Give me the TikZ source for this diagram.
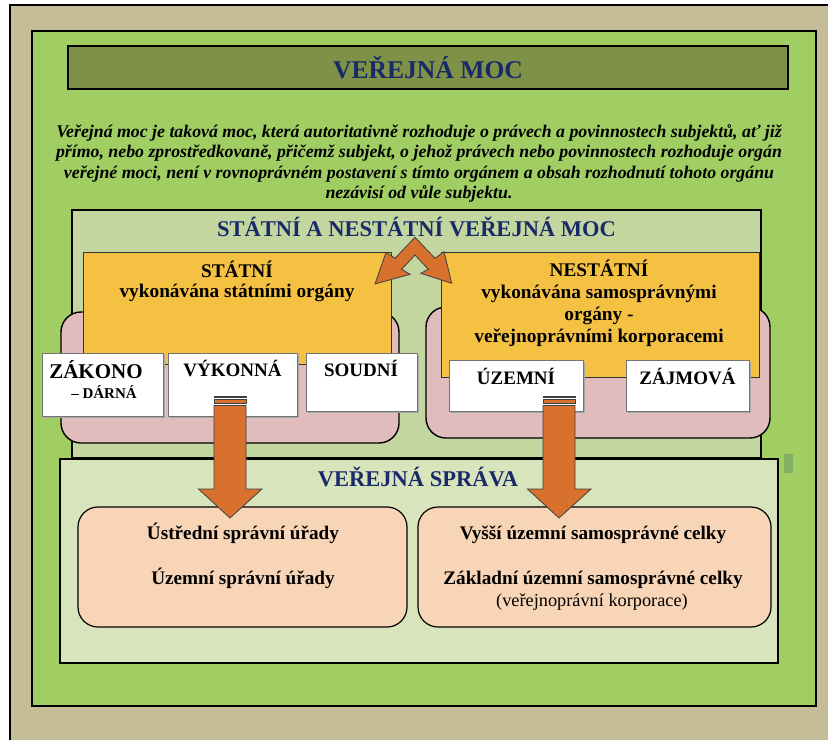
\documentclass[tikz,border=0pt]{standalone}
\usepackage{fontspec}
\setmainfont{Liberation Serif}
\usetikzlibrary{calc}
\definecolor{tanbg}{RGB}{196,189,151}
\definecolor{frgreen}{RGB}{160,206,98}
\definecolor{olive}{RGB}{127,145,71}
\definecolor{midgreen}{RGB}{196,214,160}
\definecolor{lightgreen}{RGB}{216,228,188}
\definecolor{pinkbox}{RGB}{224,188,188}
\definecolor{yellowbox}{RGB}{244,193,66}
\definecolor{orangearr}{RGB}{216,113,46}
\definecolor{beige}{RGB}{248,213,182}
\definecolor{navy}{RGB}{25,42,105}
\definecolor{specgreen}{RGB}{132,174,96}
\newcommand\fsz[1]{\fontsize{#1}{#1}\selectfont}
\begin{document}
\begin{tikzpicture}[x=1pt,y=-1pt,
  shape box/.style={rectangle, inner sep=0pt, outer sep=0pt},
  greenframe/.style={shape box, draw=black, line width=2.5pt, fill=frgreen},
  titlebox/.style={shape box, draw=black, line width=2pt, fill=olive},
  statebox/.style={shape box, draw=black, line width=2pt, fill=midgreen},
  spravabox/.style={shape box, draw=black, line width=2.5pt, fill=lightgreen},
  pinkround/.style={shape box, draw=black, line width=1.4pt, fill=pinkbox, rounded corners=20pt},
  yellowrect/.style={shape box, draw=black!80, line width=0.8pt, fill=yellowbox},
  whitebox/.style={shape box, draw=black!55, line width=1pt, fill=white},
  beigeround/.style={shape box, draw=black, line width=1.2pt, fill=beige, rounded corners=20pt},
  orangeshape/.style={fill=orangearr, draw=black!75, line width=0.8pt, line join=miter},
  txt/.style={inner sep=0pt, anchor=base},
  headtxt/.style={txt, text=navy, font=\bfseries},
  bodytxt/.style={txt, font=\bfseries},
]
\useasboundingbox (0,0) rectangle (828,740);
% outer frame
\fill[tanbg] (10,5) rectangle (828,740);
\draw[line width=2.8pt] (10,740) -- (10,5) -- (828,5);
% green frame
\node[greenframe, minimum width=784, minimum height=675] (green) at (424,368.5) {};
% title
\node[titlebox, minimum width=720, minimum height=43] (title) at (428,67.5) {};
\node[headtxt, font=\bfseries\fsz{25.6}] (titletxt) at (428,78) {VEŘEJNÁ MOC};
% definition
\node[bodytxt, font=\bfseries\itshape\fsz{17.8}] (def1) at (419,137) {Veřejná moc je taková moc, která autoritativně rozhoduje o právech a povinnostech subjektů, ať již};
\node[bodytxt, font=\bfseries\itshape\fsz{17.8}] (def2) at (419,157.5) {přímo, nebo zprostředkovaně, přičemž subjekt, o jehož právech nebo povinnostech rozhoduje orgán};
\node[bodytxt, font=\bfseries\itshape\fsz{17.8}] (def3) at (419,178) {veřejné moci, není v rovnoprávném postavení s tímto orgánem a obsah rozhodnutí tohoto orgánu};
\node[bodytxt, font=\bfseries\itshape\fsz{17.8}] (def4) at (419,198) {nezávisí od vůle subjektu.};
% state / non-state
\node[statebox, minimum width=689, minimum height=248] (state) at (416.5,334) {};
\node[headtxt, font=\bfseries\fsz{22.5}] (statetitle) at (416.5,236.7) {STÁTNÍ A NESTÁTNÍ VEŘEJNÁ MOC};
% public administration
\node[spravabox, minimum width=718, minimum height=204] (sprava) at (419,561) {};
\node[headtxt, font=\bfseries\fsz{22.5}] (spravatitle) at (418,486) {VEŘEJNÁ SPRÁVA};
% pink groups
\node[pinkround, minimum width=338, minimum height=131] (pinkL) at (230,377.5) {};
\node[pinkround, minimum width=344, minimum height=131] (pinkR) at (598,372.5) {};
% yellow boxes
\node[yellowrect, minimum width=308, minimum height=112] (statni) at (237,308) {};
\node[yellowrect, minimum width=318, minimum height=125] (nestatni) at (600,314.5) {};
\node[bodytxt, font=\bfseries\fsz{19.3}] (statni1) at (237,277.3) {STÁTNÍ};
\node[bodytxt, font=\bfseries\fsz{19.3}] (statni2) at (237,297.5) {vykonávána státními orgány};
\node[bodytxt, font=\bfseries\fsz{19.3}] (nestatni1) at (599,276.7) {NESTÁTNÍ};
\node[bodytxt, font=\bfseries\fsz{19.3}] (nestatni2) at (599,298) {vykonávána samosprávnými};
\node[bodytxt, font=\bfseries\fsz{19.3}] (nestatni3) at (599,320) {orgány -};
\node[bodytxt, font=\bfseries\fsz{19.3}] (nestatni4) at (599,342.5) {veřejnoprávními korporacemi};
% white boxes
\foreach \nm/\cx/\cy/\w/\h in {zak/102.5/384.5/121/63, vyk/232.5/384.5/129/63, sou/361.5/382/111/58, uze/516/385.5/134/51, zaj/687.5/385.5/123/51}{
  \fill[black!35] (\cx-\w/2+1.5,\cy-\h/2+1.5) rectangle (\cx+\w/2+1.5,\cy+\h/2+1.5);
  \node[whitebox, minimum width=\w, minimum height=\h] (\nm) at (\cx,\cy) {};
}
\node[bodytxt, font=\bfseries\fsz{21}] (zaktxt) at (96,378.3) {ZÁKONO};
\node[bodytxt, font=\bfseries\fsz{15}] (zaktxt2) at (104,398.3) {– DÁRNÁ};
\node[bodytxt, font=\bfseries\fsz{19}] (vyktxt) at (232.5,376.7) {VÝKONNÁ};
\node[bodytxt, font=\bfseries\fsz{19}] (soutxt) at (361,376.7) {SOUDNÍ};
\node[bodytxt, font=\bfseries\fsz{19}] (uzetxt) at (516,384.3) {ÚZEMNÍ};
\node[bodytxt, font=\bfseries\fsz{19}] (zajtxt) at (687.5,384.3) {ZÁJMOVÁ};
% beige boxes
\node[beigeround, minimum width=329, minimum height=120] (beigeL) at (242.5,567) {};
\node[beigeround, minimum width=353, minimum height=120] (beigeR) at (594.5,567) {};
\node[bodytxt, font=\bfseries\fsz{19.2}] (bl1) at (243,539.3) {Ústřední správní úřady};
\node[bodytxt, font=\bfseries\fsz{19.2}] (bl2) at (243,584) {Územní správní úřady};
\node[bodytxt, font=\bfseries\fsz{19.2}] (br1) at (593,539.3) {Vyšší územní samosprávné celky};
\node[bodytxt, font=\bfseries\fsz{19.2}] (br2) at (593,584) {Základní územní samosprávné celky};
\node[bodytxt, font=\fsz{18.3}] (br3) at (592,606) {(veřejnoprávní korporace)};
% small green mark
\node[shape box, fill=specgreen, minimum width=9, minimum height=19] (mark) at (788.5,463.5) {};
% double-headed bent arrow
\filldraw[orangeshape] (415,237.3) -- (395,258.3) -- (386,252.3) -- (375,284) -- (410,274.3) -- (401.7,269.3)
  -- (415,255) -- (428.3,269.3) -- (420.7,273.3) -- (451.7,283.3) -- (444,251.7) -- (435,258.3) -- cycle;
% vertical block arrows
\foreach \c in {230,559}{
  \filldraw[orangeshape] (\c-16,405.5) -- (\c+16,405.5) -- (\c+16,489) -- (\c+32,489) -- (\c,518) -- (\c-31.5,489) -- (\c-16,489) -- cycle;
  \filldraw[orangeshape, line width=0.5pt] (\c-16,396) rectangle (\c+16,397.6);
  \filldraw[orangeshape, line width=0.5pt] (\c-16,399.3) rectangle (\c+16,403);
}
\end{tikzpicture}
\end{document}
